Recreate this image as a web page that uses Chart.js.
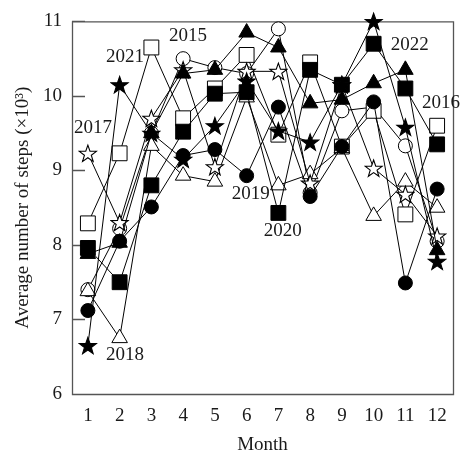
<!DOCTYPE html>
<html>
<head>
<meta charset="utf-8">
<script src="https://cdn.jsdelivr.net/npm/chart.js@4"></script>
<style>
  html, body { margin: 0; padding: 0; background: #fff; }
</style>
</head>
<body>
<canvas id="chart" width="465" height="459"></canvas>
<script>
// monthly average steps (x1000)
const months = [1, 2, 3, 4, 5, 6, 7, 8, 9, 10, 11, 12];
const y2015 = [7.40, 8.22, 9.50, 10.50, 10.38, 10.30, 10.90, 8.70, 9.80, 9.85, 9.33, 8.05];
const y2016 = [8.29, 9.23, 10.65, 9.70, 10.10, 10.55, 9.48, 10.45, 9.32, 9.80, 8.41, 9.60];
const y2017 = [9.23, 8.30, 9.70, 10.35, 9.05, 10.33, 10.33, 8.83, 10.15, 9.03, 8.68, 8.12];
const y2018 = [7.38, 6.75, 9.33, 8.93, 8.85, 9.98, 8.80, 8.95, 9.30, 8.39, 8.85, 8.50];
const y2019 = [7.12, 8.05, 8.51, 9.20, 9.28, 8.93, 9.85, 8.65, 9.32, 9.92, 7.49, 8.75];
const y2020 = [7.96, 7.50, 8.80, 9.52, 10.03, 10.05, 8.43, 10.35, 10.15, 10.70, 10.10, 9.35];
const y2021 = [6.65, 10.15, 9.50, 9.15, 9.60, 10.20, 9.53, 9.38, 10.15, 11.00, 9.58, 7.78];
const y2022 = [7.88, 8.03, 9.50, 10.30, 10.35, 10.85, 10.65, 9.90, 9.95, 10.17, 10.35, 7.93];
const yTicks = [6, 7, 8, 9, 10, 11];

// year tags, placed in data units (month, value)
const yearTags = [
  { text: '2015', month: 4.15, value: 10.81 },
  { text: '2021', month: 2.17, value: 10.52 },
  { text: '2017', month: 1.16, value: 9.57 },
  { text: '2018', month: 2.17, value: 6.52 },
  { text: '2019', month: 6.13, value: 8.68 },
  { text: '2020', month: 7.14, value: 8.19 },
  { text: '2022', month: 11.14, value: 10.68 },
  { text: '2016', month: 12.12, value: 9.91 }
];

const serif = "'Liberation Serif', 'Times New Roman', serif";
const font = { family: serif, size: 19 };
const ink = '#1a1a1a';

// 5-point star as an svg image so it stays crisp at any offset
function starImage(fill) {
  let pts = [];
  for (let i = 0; i < 10; i++) {
    const r = i % 2 ? 3.6 : 9;
    const a = -Math.PI / 2 + i * Math.PI / 5;
    pts.push((10 + r * Math.cos(a)).toFixed(2) + ',' + (10.8 + r * Math.sin(a)).toFixed(2));
  }
  const svg = '<svg xmlns="http://www.w3.org/2000/svg" width="20" height="20" viewBox="0 0 20 20">' +
    '<polygon points="' + pts.join(' ') + '" fill="' + fill + '" stroke="#000" stroke-width="1.1" stroke-linejoin="miter"/></svg>';
  const img = new Image(20, 20);
  img.src = 'data:image/svg+xml;charset=utf-8,' + encodeURIComponent(svg);
  return img;
}

// order: lower numbers are drawn on top
function series(label, values, style, fill, radius, order) {
  return {
    label: label,
    data: values.map((v, i) => ({ x: months[i], y: v })),
    borderColor: '#000',
    borderWidth: 1,
    tension: 0,
    pointStyle: style,
    pointRadius: radius,
    pointBackgroundColor: fill,
    pointBorderColor: '#000',
    pointBorderWidth: 1,
    order: order,
    clip: false
  };
}

const frame = {
  id: 'frame',
  beforeDatasetsDraw(chart) {
    const { ctx, chartArea: a, scales: { y } } = chart;
    ctx.save();
    ctx.strokeStyle = '#555';
    ctx.lineWidth = 1.3;
    ctx.beginPath();
    ctx.rect(a.left + 0.5, a.top + 0.5, a.right - a.left, a.bottom - a.top);
    yTicks.forEach(v => {
      const py = Math.round(y.getPixelForValue(v)) + 0.5;
      ctx.moveTo(a.left, py);
      ctx.lineTo(a.left + 13, py);
    });
    ctx.stroke();
    ctx.restore();
  },
  afterDatasetsDraw(chart) {
    const { ctx, scales: { x, y } } = chart;
    ctx.save();
    ctx.font = '19px ' + serif;
    ctx.fillStyle = ink;
    ctx.textAlign = 'center';
    ctx.textBaseline = 'middle';
    yearTags.forEach(t => {
      ctx.fillText(t.text, x.getPixelForValue(t.month), y.getPixelForValue(t.value));
    });
    ctx.restore();
  }
};

const openStar = starImage('#fff');
const filledStar = starImage('#000');

function draw() {
  new Chart(document.getElementById('chart'), {
    type: 'line',
    data: {
      datasets: [
        series('2015', y2015, 'circle', '#fff', 7, 7),
        series('2016', y2016, 'rect', '#fff', 10.5, 6),
        series('2017', y2017, openStar, '#fff', 9, 3),
        series('2018', y2018, 'triangle', '#fff', 9, 5),
        series('2019', y2019, 'circle', '#000', 7, 2),
        series('2020', y2020, 'rect', '#000', 10.5, 4),
        series('2021', y2021, filledStar, '#000', 9, 0),
        series('2022', y2022, 'triangle', '#000', 9, 1)
      ]
    },
    options: {
      responsive: false,
      animation: false,
      events: [],
      layout: { padding: { top: 19, right: 12, left: 0, bottom: 0 } },
      plugins: { legend: { display: false }, tooltip: { enabled: false } },
      scales: {
        x: {
          type: 'linear',
          min: 0.5,
          max: 12.5,
          afterBuildTicks: s => { s.ticks = months.map(v => ({ value: v })); },
          afterFit: s => { s.height = 65; },
          grid: { display: false, drawTicks: false },
          border: { display: false },
          ticks: { padding: 11, font: font, color: ink, autoSkip: false, maxRotation: 0 },
          title: { display: true, text: 'Month', font: font, color: ink, padding: { top: 0, bottom: 3 } }
        },
        y: {
          min: 6,
          max: 11,
          afterBuildTicks: s => { s.ticks = yTicks.map(v => ({ value: v })); },
          afterFit: s => { s.width = 72; },
          grid: { display: false, drawTicks: false },
          border: { display: false },
          ticks: { padding: 10, font: font, color: ink },
          title: { display: true, text: 'Average number of steps (×10³)', font: font, color: ink, padding: { top: 12, bottom: 0 } }
        }
      }
    },
    plugins: [frame]
  });
}

let pending = 2;
[openStar, filledStar].forEach(img => {
  if (img.complete) { if (--pending === 0) draw(); }
  else img.onload = img.onerror = () => { if (--pending === 0) draw(); };
});
</script>
</body>
</html>
